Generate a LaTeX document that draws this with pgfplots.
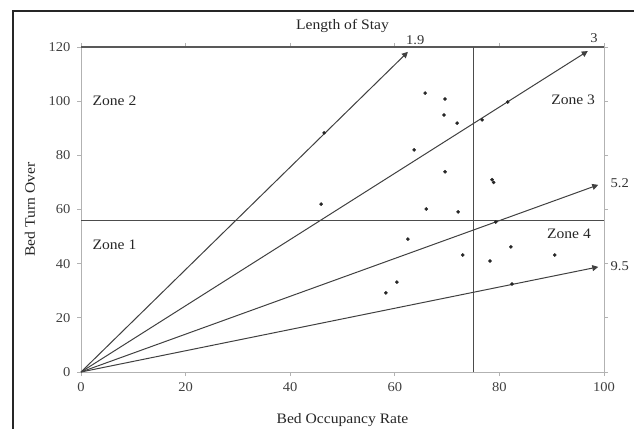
\documentclass[border=0pt]{standalone}
\usepackage{fontspec}
\setmainfont{Liberation Serif}[FakeStretch=1.08]
\usepackage{pgfplots}
\pgfplotsset{compat=1.18}
\usetikzlibrary{arrows.meta}
\begin{document}
\begin{tikzpicture}[x=1bp,y=1bp]
\path[use as bounding box] (0,0) rectangle (634,428);
\draw[black!85, line width=1.2bp] (13,-20) rectangle (660,417);
\begin{axis}[
  at={(81bp,56bp)}, anchor=south west,
  scale only axis, width=523bp, height=325bp,
  xmin=0, xmax=100, ymin=0, ymax=120,
  xtick={0,20,...,100}, ytick={0,20,...,120},
  tick align=outside, major tick length=4bp,
  tick style={gray!60, line width=0.8bp},
  axis line style={gray!60, line width=1bp},
  /pgf/number format/assume math mode=true,
  tick label style={font=\fontsize{13.5}{13.5}\selectfont, text=black!75},
  xticklabel style={yshift=-3bp},
  yticklabel style={xshift=-3bp},
  clip=false,
  xlabel={Bed Occupancy Rate},
  xlabel style={at={(axis description cs:0.5,-0.148)}, anchor=center, font=\fontsize{14.5}{14.5}\selectfont, text=black!85},
  ylabel={Bed Turn Over},
  ylabel style={at={(axis description cs:-0.0975,0.5)}, anchor=center, font=\fontsize{14.5}{14.5}\selectfont, text=black!85},
  title={Length of Stay},
  title style={at={(axis description cs:0.5,1.045)}, anchor=center, font=\fontsize{14.5}{14.5}\selectfont, text=black!85},
]
% top border line
\addplot[black!65, line width=2bp] coordinates {(0,120) (100,120)};
% zone separators
\addplot[black!70, line width=1.2bp] coordinates {(75,0) (75,120)};
\addplot[black!70, line width=1.2bp] coordinates {(0,56) (100,56)};
% length of stay lines
\addplot[black!75, line width=1bp, -{Triangle[length=6bp,width=6bp]}] coordinates {(0,0) (62.5,118.2)};
\addplot[black!75, line width=1bp, -{Triangle[length=6bp,width=6bp]}] coordinates {(0,0) (96.9,118.5)};
\addplot[black!75, line width=1bp, -{Triangle[length=6bp,width=6bp]}] coordinates {(0,0) (98.9,69.1)};
\addplot[black!75, line width=1bp, -{Triangle[length=6bp,width=6bp]}] coordinates {(0,0) (98.9,38.8)};
% hospitals
\addplot[only marks, mark=*, mark size=1.6bp, black!85] coordinates {
(65.8,103.0) (69.6,100.8) (69.4,94.9) (71.9,91.9) (46.5,88.3)
(63.7,82.0) (69.6,73.9) (78.6,71.0) (78.9,70.0) (45.9,62.0)
(66.0,60.2) (72.1,59.1) (62.5,49.1) (73.0,43.2) (82.2,46.2)
(78.2,41.0) (90.6,43.2) (60.4,33.2) (58.3,29.2) (82.4,32.5)
(79.3,55.4) (81.6,99.7) (76.7,93.1)
};
\node[font=\fontsize{13.5}{13.5}\selectfont, text=black!80] at (axis cs:63.9,122.6) {1.9};
\node[font=\fontsize{13.5}{13.5}\selectfont, text=black!80] at (axis cs:98.1,123.2) {3};
\node[font=\fontsize{13.5}{13.5}\selectfont, text=black!80] at (axis cs:103.0,69.8) {5.2};
\node[font=\fontsize{13.5}{13.5}\selectfont, text=black!80] at (axis cs:103.0,39.1) {9.5};
\node[font=\fontsize{14.5}{14.5}\selectfont, text=black!85] at (axis cs:6.4,100) {Zone 2};
\node[font=\fontsize{14.5}{14.5}\selectfont, text=black!85] at (axis cs:94.1,100.4) {Zone 3};
\node[font=\fontsize{14.5}{14.5}\selectfont, text=black!85] at (axis cs:6.4,46.9) {Zone 1};
\node[font=\fontsize{14.5}{14.5}\selectfont, text=black!85] at (axis cs:93.3,51) {Zone 4};
\end{axis}
\end{tikzpicture}
\end{document}
